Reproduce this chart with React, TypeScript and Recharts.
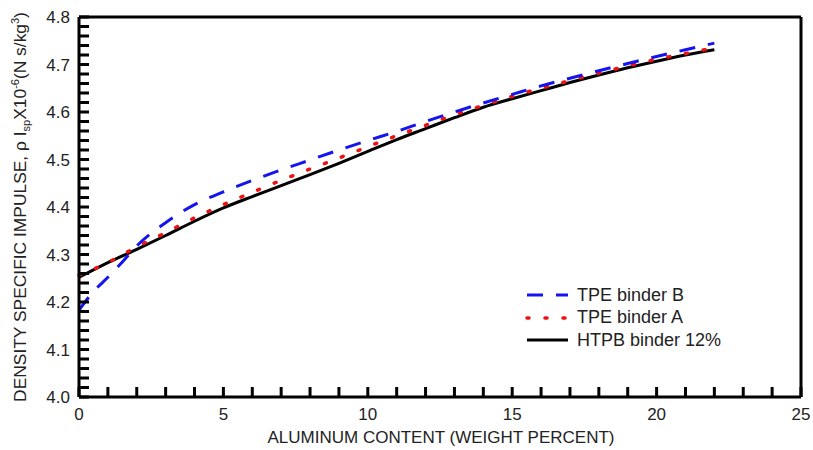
import { LineChart, Line, XAxis, YAxis } from 'recharts'

// aluminum content (wt %) and density specific impulse values
const xMain = [0, 1, 2, 3, 4, 5, 6, 7, 8, 9, 10, 11, 12, 13, 14, 15, 16, 17, 18, 19, 20, 21, 22]
const htpb12 = [
  4.252, 4.283, 4.311, 4.34, 4.37, 4.398, 4.422, 4.445, 4.468, 4.492, 4.517, 4.542, 4.565, 4.588,
  4.61, 4.628, 4.645, 4.662, 4.678, 4.693, 4.707, 4.72, 4.731,
]
const tpeA = [
  4.256, 4.283, 4.316, 4.346, 4.377, 4.405, 4.431, 4.456, 4.48, 4.503, 4.527, 4.55, 4.572, 4.594,
  4.614, 4.633, 4.65, 4.666, 4.682, 4.697, 4.711, 4.723, 4.735,
]
const xB = [0, 0.5, 1, 1.5, 2, 3, 4, 5, 6, 7, 8, 9, 10, 11, 12, 13, 14, 15, 16, 17, 18, 19, 20, 21, 22]
const tpeB = [
  4.183, 4.222, 4.252, 4.284, 4.318, 4.367, 4.405, 4.432, 4.456, 4.478, 4.499, 4.52, 4.54, 4.559,
  4.58, 4.6, 4.619, 4.637, 4.655, 4.671, 4.687, 4.702, 4.717, 4.731, 4.745,
]

const xTicks = [0, 1, 2, 3, 4, 5, 6, 7, 8, 9, 10, 11, 12, 13, 14, 15, 16, 17, 18, 19, 20, 21, 22, 23, 24, 25]
const yTicks = [
  4.0, 4.02, 4.04, 4.06, 4.08, 4.1, 4.12, 4.14, 4.16, 4.18, 4.2, 4.22, 4.24, 4.26, 4.28, 4.3,
  4.32, 4.34, 4.36, 4.38, 4.4, 4.42, 4.44, 4.46, 4.48, 4.5, 4.52, 4.54, 4.56, 4.58, 4.6, 4.62,
  4.64, 4.66, 4.68, 4.7, 4.72, 4.74, 4.76, 4.78, 4.8,
]

const legendItems = [
  { label: 'TPE binder B', color: '#1414f0', dash: '16 13', width: 3, cap: 'butt' },
  { label: 'TPE binder A', color: '#ee1111', dash: '2 16', width: 3.5, cap: 'round' },
  { label: 'HTPB binder 12%', color: '#000000', dash: undefined, width: 3, cap: 'butt' },
]

const rowsMain = xMain.map((x, i) => ({ x, htpb: htpb12[i], tpeA: tpeA[i] }))
const rowsB = xB.map((x, i) => ({ x, tpeB: tpeB[i] }))

const font = '"Liberation Sans", Arial, sans-serif'
const textColor = '#222'

const isMajorY = (v: number) => Math.abs(v * 10 - Math.round(v * 10)) < 1e-6
const fmtX = (v: number) => (v % 5 === 0 ? String(v) : '')
const fmtY = (v: number) => (isMajorY(v) ? v.toFixed(1) : '')

function YTitle() {
  return (
    <text
      transform="translate(26,207) rotate(-90)"
      textAnchor="middle"
      fontSize={17.4}
      fontFamily={font}
      fill={textColor}
    >
      DENSITY SPECIFIC IMPULSE, ρ I
      <tspan fontSize={11} dy={4}>sp</tspan>
      <tspan dy={-4}>X10</tspan>
      <tspan fontSize={11} dy={-7}>-6</tspan>
      <tspan dy={7}>(N s/kg</tspan>
      <tspan fontSize={11} dy={-7}>3</tspan>
      <tspan dy={7}>)</tspan>
    </text>
  )
}

export default function App() {
  const axisLine = { stroke: '#000', strokeWidth: 3 }
  const tickLine = { stroke: '#000', strokeWidth: 3 }
  const tickText = { fontSize: 17, fontFamily: font, fill: textColor }
  return (
    <div style={{ position: 'relative', width: 813, height: 450, background: '#fff' }}>
      <style>{'body{margin:0}'}</style>
      <LineChart width={813} height={450} margin={{ top: 7, right: 2, bottom: 23, left: 19 }}>
        <XAxis
          xAxisId="b"
          dataKey="x"
          type="number"
          domain={[0, 25]}
          ticks={xTicks}
          interval={0}
          height={30}
          tickSize={-10}
          tickMargin={21}
          tickLine={tickLine}
          axisLine={axisLine}
          tick={tickText}
          tickFormatter={fmtX}
        />
        <XAxis
          xAxisId="t"
          orientation="top"
          type="number"
          domain={[0, 25]}
          ticks={xTicks}
          interval={0}
          height={10}
          tickSize={-10}
          tickLine={tickLine}
          axisLine={axisLine}
          tick={false}
        />
        <YAxis
          yAxisId="l"
          type="number"
          domain={[4.0, 4.8]}
          ticks={yTicks}
          interval={0}
          width={60}
          tickSize={-10}
          tickMargin={19}
          tickLine={tickLine}
          axisLine={axisLine}
          tick={tickText}
          tickFormatter={fmtY}
        />
        <YAxis
          yAxisId="r"
          orientation="right"
          type="number"
          domain={[4.0, 4.8]}
          ticks={yTicks}
          interval={0}
          width={10}
          tickSize={-10}
          tickLine={tickLine}
          axisLine={axisLine}
          tick={false}
        />
        <Line
          xAxisId="b"
          yAxisId="l"
          data={rowsMain}
          dataKey="htpb"
          type="monotone"
          stroke="#000"
          strokeWidth={3}
          dot={false}
          isAnimationActive={false}
        />
        <Line
          xAxisId="b"
          yAxisId="l"
          data={rowsMain}
          dataKey="tpeA"
          type="monotone"
          stroke="#ee1111"
          strokeWidth={3.5}
          strokeDasharray="2 16"
          strokeLinecap="round"
          dot={false}
          isAnimationActive={false}
        />
        <Line
          xAxisId="b"
          yAxisId="l"
          data={rowsB}
          dataKey="tpeB"
          type="monotone"
          stroke="#1414f0"
          strokeWidth={3}
          strokeDasharray="16 13"
          dot={false}
          isAnimationActive={false}
        />
        <YTitle />
        <text x={441} y={443} textAnchor="middle" fontSize={17} fontFamily={font} fill={textColor}>
          ALUMINUM CONTENT (WEIGHT PERCENT)
        </text>
      </LineChart>
      <div style={{ position: 'absolute', left: 524, top: 284, fontFamily: font, fontSize: 18, color: textColor }}>
        {legendItems.map((item) => (
          <div key={item.label} style={{ display: 'flex', alignItems: 'center', height: 22.5 }}>
            <svg width={46} height={10} style={{ marginRight: 7 }}>
              <line
                x1={3}
                x2={44}
                y1={5}
                y2={5}
                stroke={item.color}
                strokeWidth={item.width}
                strokeDasharray={item.dash}
                strokeLinecap={item.cap as any}
              />
            </svg>
            <span>{item.label}</span>
          </div>
        ))}
      </div>
    </div>
  )
}
